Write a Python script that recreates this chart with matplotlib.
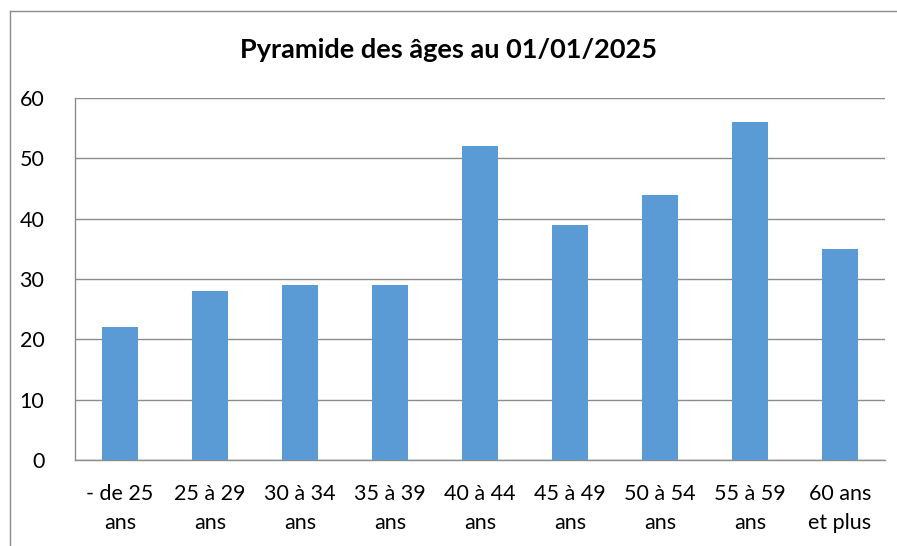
import numpy as np
import matplotlib
matplotlib.use("Agg")
import matplotlib.pyplot as plt
from matplotlib.lines import Line2D

plt.rcParams["font.family"] = ["Lato", "DejaVu Sans"]

categories = ["- de 25\nans", "25 à 29\nans", "30 à 34\nans", "35 à 39\nans",
              "40 à 44\nans", "45 à 49\nans", "50 à 54\nans", "55 à 59\nans",
              "60 ans\net plus"]
values = [22, 28, 29, 29, 52, 39, 44, 56, 35]
yticks = [0, 10, 20, 30, 40, 50, 60]

fig = plt.figure(figsize=(8.97, 5.46), dpi=100)
ax = fig.add_axes([75/897, 1-460/546, 810/897, 362/546])

x = np.arange(len(values))
ax.bar(x, values, width=0.4, color="#5B9BD5", zorder=3)
ax.set_xlim(-0.5, len(values)-0.5)
ax.set_ylim(0, 60)
ax.set_yticks(yticks)
ax.set_xticks(x)
ax.set_xticklabels(categories, fontsize=15.5, linespacing=1.6)
ax.tick_params(axis="y", labelsize=15.5, length=0, pad=22)
ax.tick_params(axis="x", length=0, pad=17)
ax.yaxis.grid(True, color="#8c8c8c", linewidth=1, zorder=0)

for s in ["top", "right"]:
    ax.spines[s].set_visible(False)
for s in ["left", "bottom"]:
    ax.spines[s].set_color("#8c8c8c")
    ax.spines[s].set_linewidth(1)

fig.text(0.5, 1-50/546, "Pyramide des âges au 01/01/2025", ha="center", va="center",
         fontsize=19.5, fontweight="bold")

# outer chart border: only left and top edges are inside the image
bx, by = 10/897, 1-11/546
fig.lines.append(Line2D([bx, bx], [0, by], transform=fig.transFigure, color="#8c8c8c", lw=1))
fig.lines.append(Line2D([bx, 1], [by, by], transform=fig.transFigure, color="#8c8c8c", lw=1))

fig.savefig("out.png", dpi=100)
